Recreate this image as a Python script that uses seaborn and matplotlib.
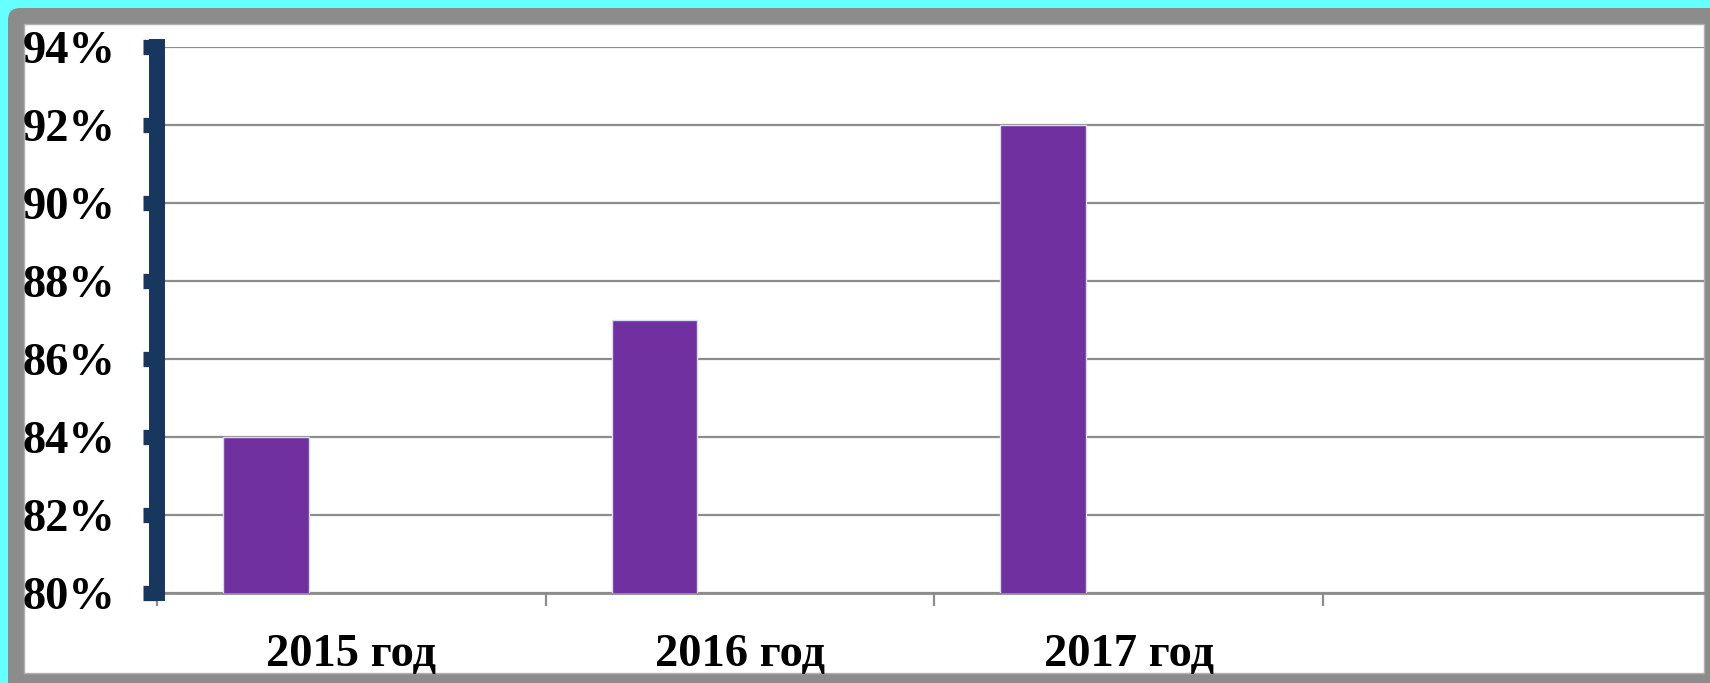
import matplotlib
matplotlib.use("Agg")
import matplotlib.pyplot as plt
from matplotlib.patches import FancyBboxPatch, Rectangle
from matplotlib.ticker import FuncFormatter, FixedLocator
from matplotlib.transforms import IdentityTransform
import seaborn as sns
import pandas as pd

categories = ["2015 год", "2016 год", "2017 год"]
series_names = ["Ряд 1", "Ряд 2", "Ряд 3"]
values_s1 = [84, 87, 92]
values_s2 = [None, None, None]
values_s3 = [None, None, None]
y_ticks = [80, 82, 84, 86, 88, 90, 92, 94]

rows = []
for name, vals in zip(series_names, [values_s1, values_s2, values_s3]):
    for c, v in zip(categories, vals):
        rows.append({"cat": c, "series": name, "value": float("nan") if v is None else v})
df = pd.DataFrame(rows)

sns.set_style("white")
plt.rcParams["font.family"] = ["Liberation Serif", "DejaVu Serif"]

W, H = 1710, 683
fig = plt.figure(figsize=(W / 100, H / 100), dpi=100)
fig.patch.set_facecolor("#66FFFF")

# gray frame with small rounded corner (pixel coordinates, origin bottom-left)
frame = FancyBboxPatch((8, -60), 1800, (H - 8) + 60,
                       boxstyle="round,pad=0,rounding_size=12",
                       transform=IdentityTransform(), facecolor="#8C8C8C",
                       edgecolor="none", zorder=0)
fig.patches.append(frame)
panel = Rectangle((24 / W, 10 / H), (1704 - 24) / W, (673 - 24) / H,
                  transform=fig.transFigure, facecolor="white",
                  edgecolor="#B0B0B0", linewidth=1, zorder=1)
fig.patches.append(panel)

ax = fig.add_axes([157 / W, 1 - 593 / H, (1704 - 157) / W, (593 - 47) / H])
ax.set_facecolor("none")
ax.set_zorder(2)

sns.barplot(data=df, x="cat", y="value", hue="series", hue_order=series_names,
            order=categories, palette=["#7030A0", "#7030A0", "#7030A0"],
            saturation=1, width=0.66, dodge=True, errorbar=None, legend=False,
            edgecolor="#D3DEEE", linewidth=1, ax=ax, zorder=3)

ax.set_ylim(80, 94)
ax.set_xlim(-0.5, 3.48)
ax.yaxis.set_major_locator(FixedLocator(y_ticks))
ax.yaxis.set_major_formatter(FuncFormatter(lambda v, p: f"{v:.0f}%"))
ax.grid(axis="y", color="#8C8C8C", linewidth=1.6, zorder=1)
ax.set_axisbelow(True)
ax.set_xlabel("")
ax.set_ylabel("")

for s in ["top", "right"]:
    ax.spines[s].set_visible(False)
ax.spines["left"].set_color("#17375E")
ax.spines["left"].set_linewidth(11.5)
ax.spines["left"].set_zorder(5)
ax.spines["bottom"].set_color("#8C8C8C")
ax.spines["bottom"].set_linewidth(2)

ax.tick_params(axis="y", which="major", direction="out", length=10, width=11,
               color="#17375E", pad=20, labelsize=33.5, labelcolor="black", left=True)
ax.tick_params(axis="x", which="major", length=0, pad=29.5, labelsize=33.5,
               labelcolor="black", bottom=True)
ax.xaxis.set_minor_locator(FixedLocator([-0.5, 0.5, 1.5, 2.5]))
ax.tick_params(axis="x", which="minor", direction="out", length=9, width=1.6,
               color="#8C8C8C", bottom=True)
for lab in ax.get_xticklabels() + ax.get_yticklabels():
    lab.set_fontweight("bold")

fig.savefig("out.png", dpi=100, facecolor=fig.get_facecolor())
